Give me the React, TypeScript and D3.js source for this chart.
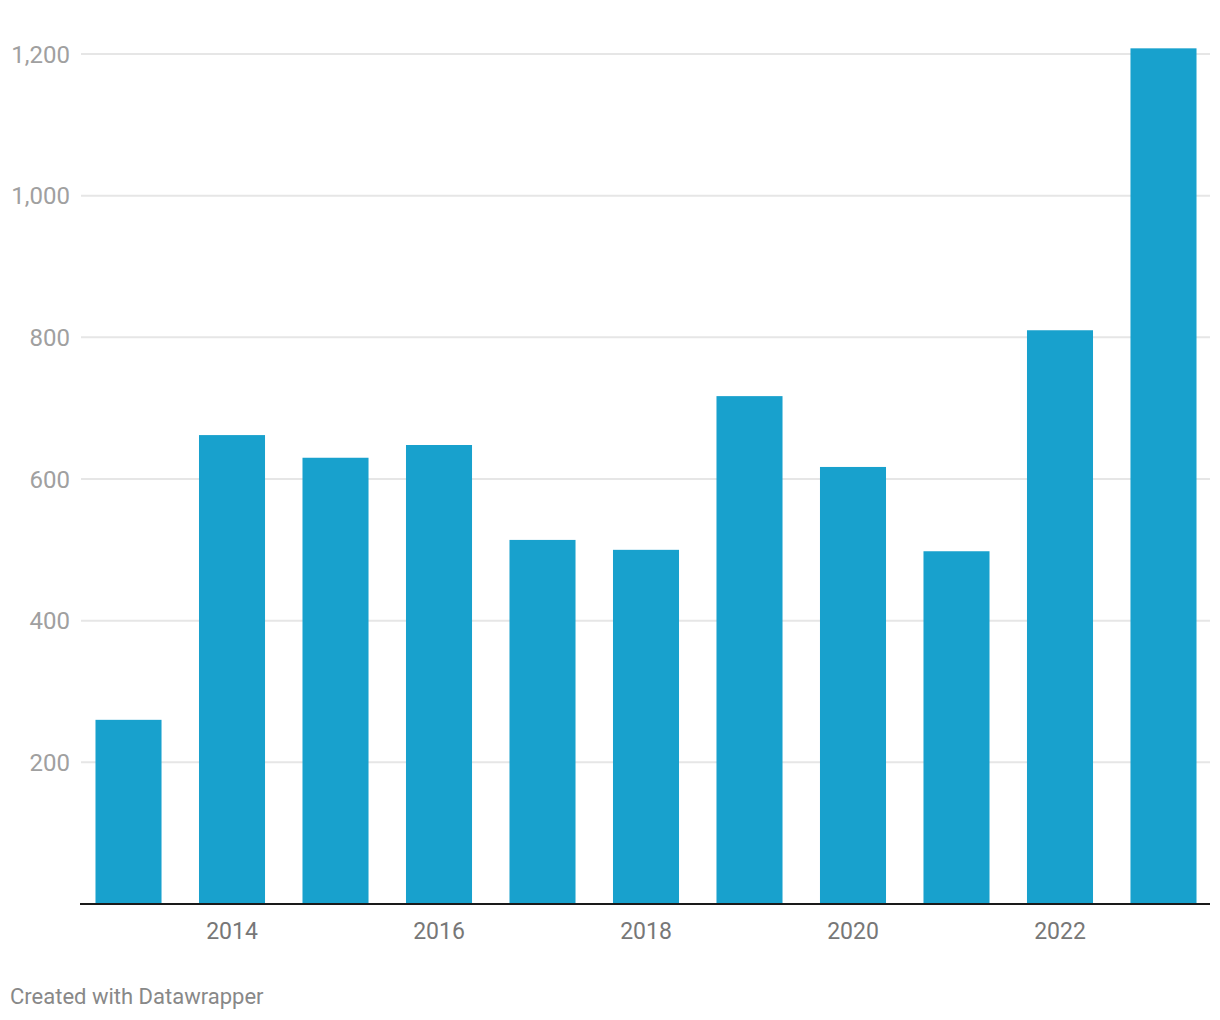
import React from "react";
import * as d3 from "d3";

const years = ["2013", "2014", "2015", "2016", "2017", "2018", "2019", "2020", "2021", "2022", "2023"];
const values = [260, 662, 630, 648, 514, 500, 717, 617, 498, 810, 1208];
const yTicks = [200, 400, 600, 800, 1000, 1200];
const xTickLabels = ["2014", "2016", "2018", "2020", "2022"];

export default function App() {
  const W = 1220;
  const H = 1020;
  const x = d3.scaleBand<string>().domain(years).range([81, 1211]).paddingInner(0.362).paddingOuter(0.14);
  const y = d3.scaleLinear().domain([0, 1200]).range([904, 54]);
  const fmt = d3.format(",");
  const font = "Roboto, 'Noto Sans', sans-serif";
  return (
    <svg width={W} height={H} style={{ position: "absolute", left: 0, top: 0, background: "#fff" }}>
      {yTicks.map((t) => (
        <g key={t}>
          <line x1={81} x2={1210} y1={y(t)} y2={y(t)} stroke="#e6e6e6" strokeWidth={2} />
          <text x={70} y={y(t)} dy="0.36em" textAnchor="end" fontFamily={font} fontSize={24} fill="#a0a0a0">
            {fmt(t)}
          </text>
        </g>
      ))}
      {years.map((yr, i) => (
        <rect key={yr} x={x(yr)} y={y(values[i])} width={x.bandwidth()} height={y(0) - y(values[i])} fill="#18a1cd" />
      ))}
      <line x1={80} x2={1210} y1={904} y2={904} stroke="#1a1a1a" strokeWidth={2} />
      {xTickLabels.map((l) => (
        <text key={l} x={(x(l) as number) + x.bandwidth() / 2} y={939} textAnchor="middle" fontFamily={font} fontSize={23} fill="#777">
          {l}
        </text>
      ))}
      <text x={10} y={1004} fontFamily={font} fontSize={22} fill="#888">
        Created with Datawrapper
      </text>
    </svg>
  );
}
